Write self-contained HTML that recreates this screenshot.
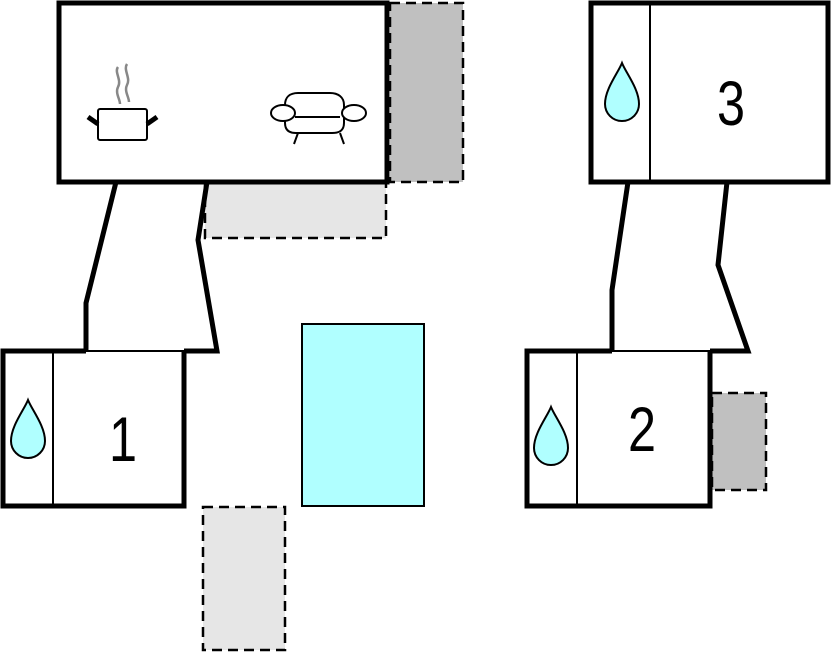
<!DOCTYPE html>
<html><head><style>html,body{margin:0;padding:0;background:#fff;width:832px;height:652px;overflow:hidden}</style></head>
<body>
<svg width="832" height="652" viewBox="0 0 832 652" xmlns="http://www.w3.org/2000/svg">
<g stroke="#000" stroke-width="2.5" stroke-dasharray="10,6">
<rect x="390" y="3" width="73" height="179" fill="#c0c0c0"/>
<rect x="205" y="183" width="181" height="55" fill="#e6e6e6"/>
<rect x="203" y="507" width="82" height="143" fill="#e6e6e6"/>
<rect x="712" y="393" width="54" height="97" fill="#c0c0c0"/>
</g>
<rect x="302" y="324" width="122" height="182" fill="#b0ffff" stroke="#000" stroke-width="2"/>
<g fill="none" stroke="#000" stroke-linejoin="miter">
<rect x="59" y="3" width="328" height="179" fill="#fff" stroke-width="5"/>
<path d="M116 182 L86 303 L86 351" stroke-width="5"/>
<path d="M207 182 L198 240 L217 351 L184 351" stroke-width="5"/>
<line x1="86" y1="351" x2="184" y2="351" stroke-width="2"/>
<path d="M86 351 L3 351 L3 506 L184 506 L184 351" stroke-width="5"/>
<line x1="53" y1="351" x2="53" y2="506" stroke-width="2"/>

<rect x="591" y="3" width="237" height="179" stroke-width="5"/>
<line x1="650" y1="3" x2="650" y2="182" stroke-width="2"/>
<path d="M628 182 L612 290 L612 351" stroke-width="5"/>
<path d="M727 182 L718 265 L748 351 L710 351" stroke-width="5"/>
<line x1="612" y1="351" x2="710" y2="351" stroke-width="2"/>
<path d="M612 351 L527 351 L527 506 L710 506 L710 351" stroke-width="5"/>
<line x1="577" y1="351" x2="577" y2="506" stroke-width="2"/>
</g>
<g fill="#b0ffff" stroke="#000" stroke-width="2">
<path d="M28 400 C32 410 45 426 45 441 A17 17 0 0 1 11 441 C11 426 24 410 28 400 Z"/>
<path d="M551 407 C555 417 568 433 568 448 A17 17 0 0 1 534 448 C534 433 547 417 551 407 Z"/>
<path d="M622 63 C626 73 639 89 639 104 A17 17 0 0 1 605 104 C605 89 618 73 622 63 Z"/>
</g>
<g font-family="Liberation Sans, sans-serif" font-size="63" text-anchor="middle" fill="#000">
<text transform="translate(123 461) scale(0.8 1)">1</text>
<text transform="translate(642 451) scale(0.8 1)">2</text>
<text transform="translate(731 125) scale(0.8 1)">3</text>
</g>
<!-- pot -->
<g fill="none" stroke="#000" stroke-width="2">
<rect x="98" y="109" width="49" height="31" rx="2"/>
</g>
<line x1="88" y1="117" x2="98" y2="124" stroke="#000" stroke-width="5"/>
<line x1="157" y1="117" x2="147" y2="124" stroke="#000" stroke-width="5"/>
<g fill="none" stroke="#888" stroke-width="2.5">
<path d="M118 67 C114 72 122 80 118 87 C115 93 120 99 120 104"/>
<path d="M127 64 C123 70 131 78 127 85 C124 91 129 97 129 102"/>
</g>
<!-- sofa -->
<g fill="#fff" stroke="#000" stroke-width="2">
<path d="M285 105 C285 97 290 93 298 93 L330 93 C338 93 344 97 344 105 L344 123 C344 130 340 133 332 133 L296 133 C289 133 285 130 285 123 Z"/>
<line x1="295" y1="117" x2="340" y2="117"/>
<ellipse cx="283" cy="113" rx="12" ry="8"/>
<ellipse cx="354" cy="113" rx="12" ry="8"/>
<line x1="298" y1="133" x2="294" y2="144"/>
<line x1="340" y1="133" x2="344" y2="144"/>
</g>
</svg>
</body></html>
